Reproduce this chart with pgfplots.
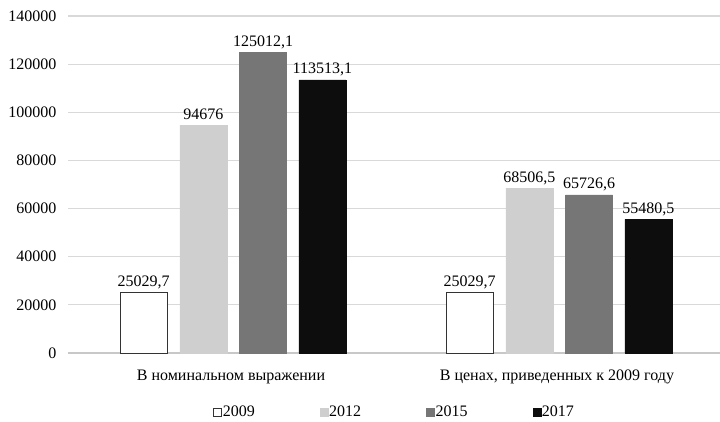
\documentclass[border=0pt]{standalone}
\usepackage{fontspec}
\setmainfont{Liberation Serif}
\usepackage{pgfplots}
\pgfplotsset{compat=1.18}
\definecolor{cA}{HTML}{FFFFFF}
\definecolor{cB}{HTML}{CFCFCF}
\definecolor{cC}{HTML}{767676}
\definecolor{cD}{HTML}{0D0D0D}
\definecolor{gridc}{HTML}{D9D9D9}
\definecolor{axisc}{HTML}{C8C8C8}
\pgfplotstableread{
x y label
0 25029.7 25029,7
1 25029.7 25029,7
}\tA
\pgfplotstableread{
x y label
0 94676 94676
1 68506.5 68506,5
}\tB
\pgfplotstableread{
x y label
0 125012.1 125012,1
1 65726.6 65726,6
}\tC
\pgfplotstableread{
x y label
0 113513.1 113513,1
1 55480.5 55480,5
}\tD
\begin{document}
\fontsize{16}{18}\selectfont
\begin{tikzpicture}
\path[use as bounding box] (-68pt,-68pt) rectangle (652pt,353pt);
\begin{axis}[
  scale only axis, width=652pt, height=337pt,
  xmin=-0.5, xmax=1.5, ymin=0, ymax=140000,
  ybar, bar width=47pt,
  axis x line=bottom, axis y line=left,
  x axis line style={draw=axisc, line width=1.4pt, -},
  y axis line style={draw=none},
  major tick length=0pt,
  xtick={0,1},
  xticklabels={В номинальном выражении, {В ценах, приведенных к 2009 году}},
  ytick={0,20000,...,140000},
  scaled y ticks=false,
  /pgf/number format/fixed,
  /pgf/number format/1000 sep={},
  /pgf/number format/assume math mode=true,
  ymajorgrids, grid style={draw=gridc, line width=1.2pt},
  tick label style={font=\fontsize{16}{18}\selectfont},
  yticklabel style={xshift=-6pt},
  xticklabel style={anchor=base, yshift=-27pt},
  nodes near coords, point meta=explicit symbolic,
  nodes near coords style={font=\fontsize{16}{18}\selectfont, anchor=base, yshift=6pt, inner sep=0pt},
  legend columns=4,
  legend style={at={(0.5,0)}, anchor=center, yshift=-59pt, draw=none, fill=none,
    font=\fontsize{16}{18}\selectfont,
    /tikz/every even column/.append style={column sep=64pt},
    nodes={inner xsep=1pt, inner ysep=1pt}},
  legend image code/.code={\draw[#1] (0pt,-4pt) rectangle (8pt,4pt);},
]
\addplot[fill=cA, draw=black!80, line width=0.75pt, bar shift=-87.3pt] table[x=x,y=y,meta=label]{\tA};
\addplot[fill=cB, draw=cB, bar shift=-27.7pt] table[x=x,y=y,meta=label]{\tB};
\addplot[fill=cC, draw=cC, bar shift=32pt] table[x=x,y=y,meta=label]{\tC};
\addplot[fill=cD, draw=cD, bar shift=91.3pt] table[x=x,y=y,meta=label]{\tD};
\legend{2009,2012,2015,2017}
\end{axis}
\end{tikzpicture}
\end{document}
